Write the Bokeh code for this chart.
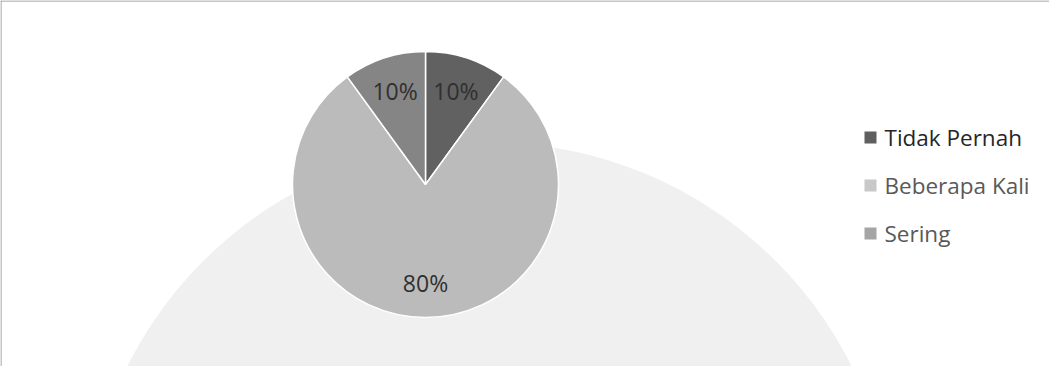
import math
from bokeh.plotting import figure
from bokeh.models import ColumnDataSource, Span
from bokeh.core.properties import value
from bokeh.embed import file_html
from bokeh.resources import INLINE

categories = ["Tidak Pernah", "Beberapa Kali", "Sering"]
percents = [10, 80, 10]
slice_colors = ["#616161", "#bbbbbb", "#858585"]
legend_colors = ["#5f5f5f", "#c8c8c8", "#a5a5a5"]
legend_text_colors = ["#262626", "#595959", "#595959"]

W, H = 1049, 366
p = figure(width=W, height=H, x_range=(0, W), y_range=(0, H),
           output_backend="svg", toolbar_location=None, min_border=0)
p.axis.visible = False
p.grid.visible = False
p.outline_line_color = None
p.background_fill_color = "white"
p.border_fill_color = "white"

# faint scan watermark behind the chart
p.circle(x=[489], y=[-181], radius=405, fill_color="#f0f0f0", line_color=None)

cx, cy, r = 425, 182, 133
total = sum(percents)
starts, ends, lx, ly, labels = [], [], [], [], []
cum = 0.0
for v in percents:
    a0 = math.pi / 2 - 2 * math.pi * cum / total
    cum += v
    a1 = math.pi / 2 - 2 * math.pi * cum / total
    starts.append(a0)
    ends.append(a1)
    mid = (a0 + a1) / 2
    lr = 0.74 * r
    lx.append(cx + lr * math.cos(mid))
    ly.append(cy + lr * math.sin(mid))
    labels.append(f"{v}%")

src = ColumnDataSource(dict(start=starts, end=ends, color=slice_colors,
                            lx=lx, ly=ly, label=labels))
p.wedge(x=cx, y=cy, radius=r, start_angle="start", end_angle="end",
        direction="clock", fill_color="color", line_color="white",
        line_width=1.5, source=src)
p.text(x="lx", y="ly", text="label", source=src, text_align="center",
       text_baseline="middle", text_font=value("Open Sans"),
       text_font_size="23px", text_color="#303030")

# legend
lg_y = [229 - 48 * i for i in range(len(categories))]
lsrc = ColumnDataSource(dict(x=[870] * len(categories), tx=[884] * len(categories),
                             y=lg_y, name=categories, color=legend_colors,
                             tcolor=legend_text_colors))
p.scatter(x="x", y="y", marker="square", size=12, fill_color="color",
          line_color=None, source=lsrc)
p.text(x="tx", y="y", text="name", source=lsrc, text_align="left",
       text_baseline="middle", text_font=value("Open Sans"),
       text_font_size="22.5px", text_color="tcolor")

# chart frame (top and left visible)
p.add_layout(Span(location=0.5, dimension="height", line_color="#8c8c8c", line_width=1))
p.add_layout(Span(location=H - 0.5, dimension="width", line_color="#8c8c8c", line_width=1))

open("out.html", "w").write(file_html(p, INLINE))
